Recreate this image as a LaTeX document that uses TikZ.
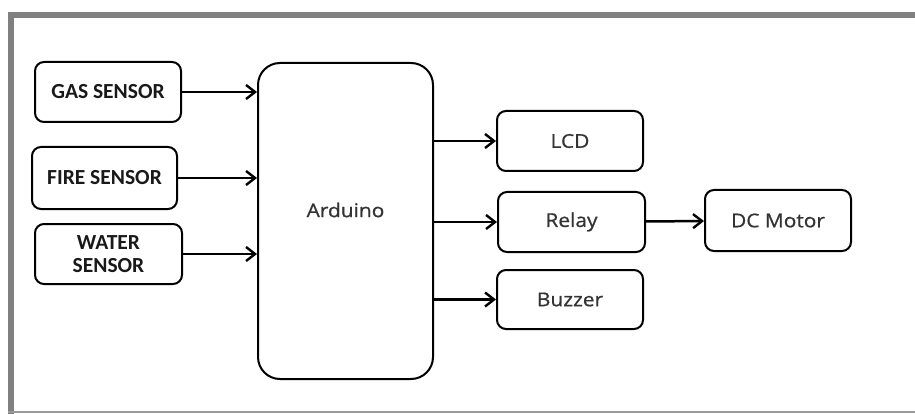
\documentclass[tikz,border=0pt]{standalone}
\usepackage{fontspec}
\setmainfont{Carlito}
\newfontfamily\blkfont[FakeStretch=1.1,FakeBold=0.8]{Open Sans}
\usetikzlibrary{arrows.meta}
\begin{document}
\begin{tikzpicture}[x=1pt,y=-1pt, line join=round, line cap=round,
	blk/.style={draw, line width=2pt, rounded corners=9pt, minimum width=146pt, minimum height=60pt, align=center, inner sep=0pt},
	sens/.style={blk, text=black!90, font=\bfseries\fontsize{21.5}{22.5}\selectfont},
	lbl/.style={text=black!80, font=\blkfont\fontsize{19}{21}\selectfont},
	outp/.style={blk, lbl},
	conn/.style={line width=2.5pt, -{Straight Barb[length=9pt,width=14pt,line width=2.4pt]}}]
	\useasboundingbox (0,0) rectangle (915,414);
	% frame
	\fill[black!50] (8,12) rectangle (915,18);
	\fill[black!50] (8,12) rectangle (14,414);
	\fill[black!40] (8,411) rectangle (915,413);
	% inputs
	\node[sens] (gas) at (108,92) {GAS SENSOR};
	\node[sens, minimum width=145pt, minimum height=62pt] (fire) at (104.5,178) {FIRE SENSOR};
	\node[sens, minimum width=147pt] (water) at (108.5,254) {WATER\\SENSOR};
	\node[blk, minimum width=175pt, minimum height=316pt, rounded corners=22pt,
		label={[lbl, yshift=11pt]center:Arduino}] (ard) at (345.5,221) {};
	% outputs
	\node[outp] (lcd) at (570,141) {LCD};
	\node[outp, minimum width=147pt] (relay) at (571.5,222) {Relay};
	\node[outp, minimum height=59pt] (buzz) at (570,299.5) {Buzzer};
	\node[outp, minimum height=61pt] (motor) at (778,220.5) {DC Motor};
	\foreach \s in {gas,fire,water}
	{\draw[conn] (\s.east) -- (\s.east -| ard.west);}
	\foreach \o in {lcd,relay,buzz}
	{\draw[conn] (\o.west -| ard.east) -- (\o.west);}
	\draw[conn] (relay) -- (motor);
\end{tikzpicture}
\end{document}
